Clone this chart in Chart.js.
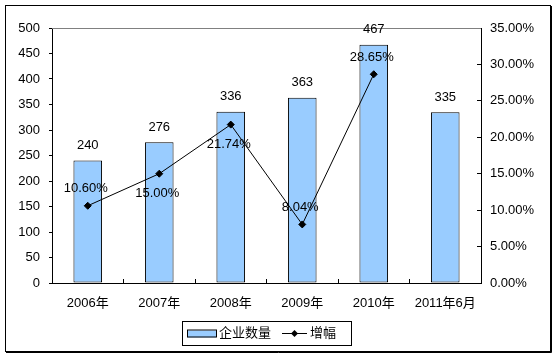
<!DOCTYPE html>
<html>
<head>
<meta charset="utf-8">
<script src="https://cdn.jsdelivr.net/npm/chart.js@4/dist/chart.umd.min.js"></script>
<style>
html,body{margin:0;padding:0;background:#fff;}
canvas{display:block;}
</style>
</head>
<body>
<canvas id="c" width="557" height="357"></canvas>
<script>
const categories = ['2006年', '2007年', '2008年', '2009年', '2010年', '2011年6月'];
const companyCount = [240, 276, 336, 363, 467, 335];
const growthPct = [10.60, 15.00, 21.74, 8.04, 28.65, null];
const seriesNames = ['企业数量', '增幅'];

const FONT = "'Liberation Sans', Arial, 'Noto Sans CJK SC', sans-serif";
const BAR_FILL = '#99CCFF';
// label placement for growth labels: -1 above, +1 below
const growthLabelSide = [-1, 1, 1, -1, -1, 0];

const decorPlugin = {
  id: 'decor',
  beforeDraw(chart) {
    const ctx = chart.ctx;
    ctx.save();
    ctx.fillStyle = '#fff';
    ctx.fillRect(0, 0, chart.width, chart.height);
    ctx.restore();
  },
  beforeDatasetsDraw(chart) {
    const {ctx, chartArea} = chart;
    ctx.save();
    ctx.strokeStyle = '#808080';
    ctx.lineWidth = 1;
    ctx.beginPath();
    ctx.moveTo(chartArea.left, Math.round(chartArea.top) + 0.5);
    ctx.lineTo(chartArea.right, Math.round(chartArea.top) + 0.5);
    ctx.stroke();
    ctx.restore();
  },
  afterDatasetsDraw(chart) {
    const ctx = chart.ctx;
    ctx.save();
    ctx.font = '13px ' + FONT;
    ctx.fillStyle = '#000';
    ctx.textAlign = 'center';
    ctx.textBaseline = 'middle';
    const barMeta = chart.getDatasetMeta(1);
    barMeta.data.forEach((el, i) => {
      ctx.fillText(String(companyCount[i]), el.x, el.y - 15);
    });
    const lineMeta = chart.getDatasetMeta(0);
    lineMeta.data.forEach((el, i) => {
      const v = growthPct[i];
      if (v === null || el.skip) return;
      const side = growthLabelSide[i];
      const dy = side < 0 ? -17 : 20;
      ctx.fillText(v.toFixed(2) + '%', el.x - 2, el.y + dy);
    });
    ctx.restore();
  },
  afterDraw(chart) {
    const ctx = chart.ctx;
    ctx.save();
    // outer frame
    ctx.strokeStyle = '#000';
    ctx.lineWidth = 1;
    ctx.strokeRect(5.5, 5.5, 545, 346);
    ctx.beginPath();
    ctx.moveTo(551.5, 6); ctx.lineTo(551.5, 352.5);
    ctx.moveTo(6, 352.5); ctx.lineTo(551.5, 352.5);
    ctx.stroke();

    // legend
    const bx = 182, by = 321, bw = 169, bh = 24;
    ctx.strokeRect(bx + 0.5, by + 0.5, bw, bh);
    const cy = by + bh / 2 + 0.5;
    ctx.fillStyle = BAR_FILL;
    ctx.fillRect(187, cy - 3, 29, 7);
    ctx.strokeRect(187.5, cy - 3.5, 29, 7);
    ctx.fillStyle = '#000';
    ctx.font = '13px ' + FONT;
    ctx.textAlign = 'left';
    ctx.textBaseline = 'middle';
    ctx.fillText(seriesNames[0], 219, cy);
    ctx.beginPath();
    ctx.moveTo(282, cy); ctx.lineTo(307, cy);
    ctx.stroke();
    ctx.beginPath();
    ctx.moveTo(294.5, cy - 3.5); ctx.lineTo(298, cy); ctx.lineTo(294.5, cy + 3.5); ctx.lineTo(291, cy);
    ctx.closePath();
    ctx.fill();
    ctx.fillText(seriesNames[1], 310, cy);
    ctx.restore();
  }
};

new Chart(document.getElementById('c'), {
  data: {
    labels: categories,
    datasets: [
      {
        type: 'line',
        label: seriesNames[1],
        data: growthPct,
        yAxisID: 'y1',
        order: 0,
        borderColor: '#000',
        borderWidth: 1,
        backgroundColor: '#000',
        pointStyle: 'rectRot',
        pointRadius: 3.5,
        pointBorderWidth: 1,
        pointBackgroundColor: '#000',
        pointBorderColor: '#000',
        tension: 0,
        fill: false
      },
      {
        type: 'bar',
        label: seriesNames[0],
        data: companyCount,
        yAxisID: 'y',
        order: 1,
        backgroundColor: BAR_FILL,
        borderColor: '#000',
        borderWidth: 1,
        borderSkipped: false,
        categoryPercentage: 1,
        barPercentage: 0.4
      }
    ]
  },
  options: {
    responsive: false,
    animation: false,
    layout: { padding: { top: 28, left: 0, right: 0, bottom: 44 } },
    plugins: {
      legend: { display: false },
      tooltip: { enabled: false },
      title: { display: false }
    },
    scales: {
      x: {
        type: 'category',
        offset: true,
        grid: { offset: true, drawOnChartArea: false, drawTicks: true, tickLength: -4, color: '#000' },
        border: { display: true, color: '#000', width: 1 },
        ticks: { color: '#000', font: { family: FONT, size: 13 }, padding: 17, maxRotation: 0, autoSkip: false },
        afterFit: s => { s.height = 30; }
      },
      y: {
        position: 'left',
        min: 0, max: 500,
        grid: { drawOnChartArea: false, drawTicks: true, tickLength: 3, color: '#000' },
        border: { display: true, color: '#000', width: 1 },
        ticks: { stepSize: 50, color: '#000', font: { family: FONT, size: 13 }, padding: 9 },
        afterFit: s => { s.width = 52; }
      },
      y1: {
        position: 'right',
        min: 0, max: 35,
        grid: { drawOnChartArea: false, drawTicks: true, tickLength: -4, color: '#000' },
        border: { display: true, color: '#000', width: 1 },
        ticks: { stepSize: 5, color: '#000', font: { family: FONT, size: 13 }, padding: 13,
          callback: v => Number(v).toFixed(2) + '%' },
        afterFit: s => { s.width = 76; }
      }
    }
  },
  plugins: [decorPlugin]
});
</script>
</body>
</html>
